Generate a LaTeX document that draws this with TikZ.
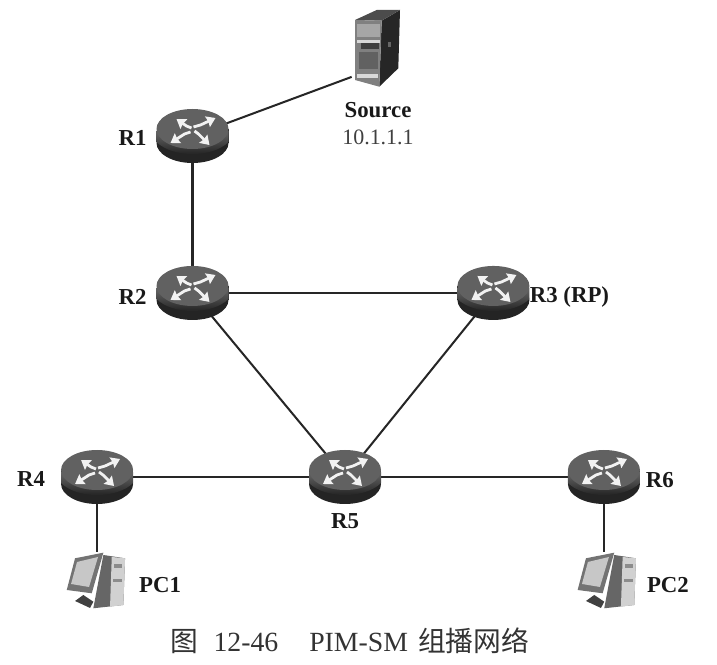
\documentclass[tikz,border=0pt]{standalone}
\usepackage{fontspec}
\setmainfont{Liberation Serif}
\newfontfamily\cjkfont{Noto Sans CJK SC}
\usetikzlibrary{positioning,arrows.meta,shapes.geometric}
\definecolor{bodydark}{gray}{0.14}
\tikzset{
  routerbox/.style={ellipse,minimum width=1.44cm,minimum height=1.04cm,inner sep=0pt},
  hostbox/.style={minimum width=1.2cm,minimum height=1.14cm,inner sep=0pt},
  link/.style={line width=1.15pt,black!85},
  devlabel/.style={font=\fontsize{13}{15}\selectfont\bfseries,inner sep=0pt,text=black!90},
  addrlabel/.style={font=\fontsize{12.5}{15}\selectfont,inner sep=0pt,text=black!75},
  captionlabel/.style={font=\fontsize{15.8}{18}\selectfont,inner sep=0pt,text=black!80},
  flow/.style={black!5,line width=1.6pt,-{Stealth[length=5pt,width=6.5pt,inset=0.5pt]}},
  routericon/.pic={
    \fill[bodydark] (0,7) ellipse [x radius=36,y radius=20];
    \fill[bodydark] (-36,-7) rectangle (36,7);
    \shade[top color=black!60,bottom color=black!90] (-36,-5) -- (36,-5) -- (36,6)
      .. controls (20,22) and (-20,22) .. (-36,6) -- cycle;
    \fill[black!62] (0,-7) ellipse [x radius=36,y radius=20];
    \draw[flow] (-1,-8) -- (-6,-10) -- (-16,-17);
    \draw[flow] (1,-9) -- (8,-11) -- (23,-18);
    \draw[flow] (-2,-4) -- (-8,-2) -- (-22,7);
    \draw[flow] (2,-5) -- (6,-2) -- (17,9);
  },
  servericon/.pic={
    \fill[black!85] (6.7,-26.3) -- (25,-37) -- (23.3,21.3) -- (4.3,39.7) -- cycle;
    \fill[black!70] (-20,-27) -- (1.7,-37) -- (25,-37) -- (6.7,-26.3) -- cycle;
    \fill[black!50] (-20,-27) -- (6.7,-26.3) -- (4.3,39.7) -- (-20,33) -- cycle;
    \fill[black!35] (-18,-23) rectangle (5,-10);
    \fill[black!15] (-18,-7) rectangle (5,-4);
    \fill[black!75] (-14,-4) rectangle (4,2);
    \fill[black!62] (-16,5) rectangle (3,22);
    \fill[black!15] (-18,27) rectangle (3,31);
    \fill[black!60] (13,-5) rectangle (16,0);
  },
  pcicon/.pic={
    \fill[black!60] (6.3,-26) -- (28,-22.7) -- (26.3,24) -- (-3.7,27.3) -- cycle;
    \fill[black!18] (14.7,-24) -- (28,-22.7) -- (26.3,24) -- (13,25.7) -- cycle;
    \fill[black!75] (-22,20) -- (-13.7,14) -- (-3.7,20.7) -- (-7,27) -- cycle;
    \fill[black!55] (-30.3,9) -- (-22,-22.7) -- (6.3,-28.3) -- (-5.3,12.3) -- cycle;
    \fill[black!22] (-26,3) -- (-20,-19) -- (1,-24) -- (-8,6) -- cycle;
    \fill[black!45] (17,-17) rectangle (25,-13);
    \fill[black!45] (16,-2) rectangle (25,1);
  }
}
\begin{document}
\begin{tikzpicture}[x=0.02cm,y=-0.02cm,on grid]
    \useasboundingbox (0,0) rectangle (717,665);
    % routers
    \node [routerbox] (r1) at (192.5,136) {};
    \node [routerbox, below = 3.14cm of r1] (r2) {};
    \node [routerbox, right = 6.02cm of r2] (r3) {};
    \node [routerbox] (r5) at (345,477) {};
    \node [routerbox, left = 4.96cm of r5] (r4) {};
    \node [routerbox, right = 5.18cm of r5] (r6) {};
    % hosts
    \node [hostbox, minimum width=0.92cm, minimum height=1.6cm] (server) at (375,47) {};
    \node [hostbox, below = 2.08cm of r4] (pc1) {};
    \node [hostbox, below = 2.08cm of r6] (pc2) {};
    % links
    \draw [link] (r1) -- (server.232);
    \draw [link] (r1) -- (r2);
    \draw [link] (r2) -- (r3);
    \draw [link] (r2) -- (r5);
    \draw [link] (r3) -- (r5);
    \draw [link] (r4) -- (r5);
    \draw [link] (r5) -- (r6);
    \draw [link] (r4) -- (pc1);
    \draw [link] (r6) -- (pc2);
    % icons
    \foreach \rt in {r1,r2,r3,r4,r5,r6} {
      \pic at (\rt) {routericon};
    }
    \pic at (server) {servericon};
    \pic at (pc1) {pcicon};
    \pic at ([xshift=0.08cm]pc2) {pcicon};
    % labels
    \node [devlabel, left = 1.2cm of r1, yshift=-0.04cm] (r1text) {R1};
    \node [devlabel, left = 1.2cm of r2, yshift=-0.08cm] (r2text) {R2};
    \node [devlabel, right = 1.52cm of r3, yshift=-0.08cm] (r3text) {R3 (RP)};
    \node [devlabel, left = 1.32cm of r4, yshift=-0.04cm] (r4text) {R4};
    \node [devlabel, below = 0.88cm of r5] (r5text) {R5};
    \node [devlabel, right = 1.12cm of r6, yshift=-0.06cm] (r6text) {R6};
    \node [devlabel, right = 1.26cm of pc1, yshift=-0.08cm] (pc1text) {PC1};
    \node [devlabel, right = 1.28cm of pc2, yshift=-0.08cm] (pc2text) {PC2};
    \node [devlabel] (sourcetext) at (378,110) {Source};
    \node [addrlabel, below = 0.54cm of sourcetext] (iptext) {10.1.1.1};
    \node [captionlabel] (caption) at (350,641)
      {{\cjkfont 图}\hspace{8.5pt}12-46\hspace{17.6pt}PIM-SM\hspace{5.7pt}{\cjkfont 组播网络}};
\end{tikzpicture}
\end{document}
